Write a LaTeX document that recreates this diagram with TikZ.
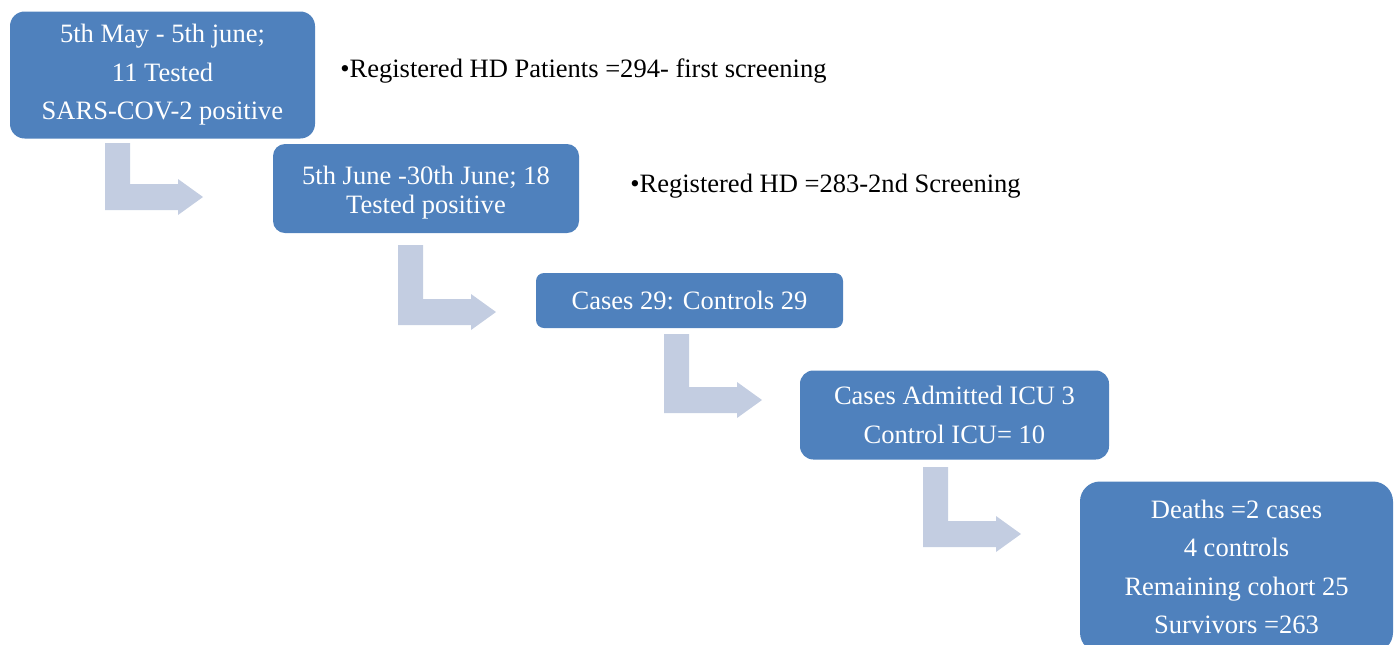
\documentclass[tikz,border=0pt]{standalone}
\usepackage{fontspec}
\setmainfont{Liberation Serif}
\definecolor{boxblue}{HTML}{4F81BD}
\definecolor{arrowfill}{HTML}{C3CDE1}
\newcommand{\pxu}{0.75pt}
\newcommand{\bendarrow}[3]{%
  \fill[arrowfill] (#1,#2) -- (#1+25,#2) -- (#1+25,#3-26) -- (#1+73,#3-26) -- (#1+73,#3-31)
    -- (#1+98,#3-13) -- (#1+73,#3+5) -- (#1+73,#3) -- (#1,#3) -- cycle;}
\begin{document}
\begin{tikzpicture}[x=0.75pt,y=-0.75pt,
  box/.style={fill=boxblue, rounded corners=#1, text=white, align=center, inner sep=0pt,
    font=\fontsize{19.9}{28.8}\selectfont},
  box/.default=10pt,
  note/.style={anchor=west, inner sep=0pt, font=\fontsize{19.9}{24}\selectfont}]
\useasboundingbox (0,0) rectangle (1396,644);
\clip (0,0) rectangle (1396,644);
% boxes
\node[box=11pt, minimum width={305*\pxu}, minimum height={127*\pxu}] (b1) at (162.5,75)
  {5th May - 5th june;\\11 Tested\\SARS-COV-2 positive};
\node[box=9pt, minimum width={306*\pxu}, minimum height={89*\pxu},
  font=\fontsize{19.9}{22}\selectfont] (b2) at (426,188.5)
  {\rule{0pt}{20pt}5th June -30th June; 18\\Tested positive};
\node[box=6pt, minimum width={307*\pxu}, minimum height={55*\pxu}] (b3) at (689.5,300.5)
  {Cases 29: Controls 29};
\node[box=10pt, minimum width={309*\pxu}, minimum height={89*\pxu}] (b4) at (954.5,415)
  {Cases Admitted ICU 3\\Control ICU= 10};
\node[box=15pt, minimum width={313*\pxu}, minimum height={171*\pxu}] (b5) at (1236.5,567)
  {Deaths =2 cases\\4 controls\\Remaining cohort 25\\Survivors =263};
% notes
\node[note] (n1) at (340,71) {•Registered HD Patients =294- first screening};
\node[note] (n2) at (630,186) {•Registered HD =283-2nd Screening};
% bent arrows
\bendarrow{105}{143}{210}
\bendarrow{398}{245}{325}
\bendarrow{664}{334}{413}
\bendarrow{923}{467}{547}
\end{tikzpicture}
\end{document}
